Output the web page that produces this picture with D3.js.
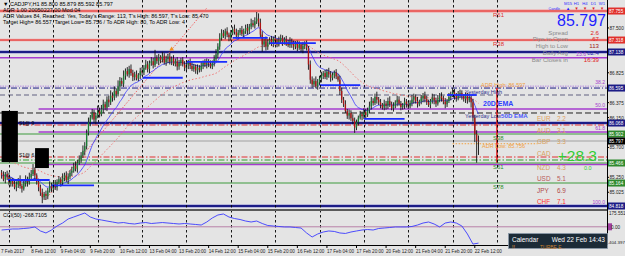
<!DOCTYPE html>
<html><head><meta charset="utf-8">
<script src="https://cdn.jsdelivr.net/npm/d3@7"></script>
<style>body{margin:0;background:#e4e4e4;overflow:hidden}svg{display:block}</style>
</head><body><svg id="c" width="625" height="256"></svg>
<script>
// ---------------- DATA ----------------
const firstOpen = 85.32;
const closes = [
85.28,85.22,85.30,85.25,85.18,85.21,
85.15,85.10,85.14,85.20,85.12,85.08,85.16,85.22,85.18,85.25,
85.30,85.36,85.28,
85.18,85.10,85.02,84.95,85.00,84.97,85.05,85.12,
85.08,85.15,85.10,85.18,
85.22,85.17,85.24,85.28,85.21,85.26,85.32,
85.35,85.42,85.38,85.47,85.52,
85.58,85.65,85.72,
85.92,86.08,
86.15,86.22,86.12,86.18,86.25,86.20,86.28,
86.35,86.30,86.42,86.38,86.48,86.45,86.55,86.50,
86.62,86.70,86.66,86.78,86.85,86.80,86.88,86.82,
86.76,86.80,86.74,86.79,86.85,86.83,
86.90,86.95,86.88,86.97,87.00,86.94,
87.05,87.00,87.06,87.02,87.08,86.98,87.03,87.07,86.99,87.04,
86.96,87.00,86.92,86.97,87.02,86.95,86.90,86.94,86.99,86.93,86.88,86.92,86.86,86.90,86.87,
86.93,86.98,86.95,87.00,86.96,86.92,86.97,87.03,87.10,
87.22,87.35,87.42,
87.38,87.45,87.40,87.36,87.42,87.48,87.44,87.39,87.43,87.47,87.41,87.45,87.50,87.46,
87.52,87.57,87.54,87.60,87.64,87.58,
87.40,87.25,87.30,87.22,87.28,
87.32,87.27,87.34,87.30,87.25,87.31,87.35,87.29,87.33,87.28,87.24,87.30,87.26,87.22,
87.27,87.20,87.25,87.18,87.23,87.26,87.20,
86.95,86.72,86.65,
86.70,86.62,86.68,86.74,
86.78,86.82,86.76,86.84,86.80,86.75,86.79,86.83,86.77,86.72,
86.55,86.42,86.35,
86.25,86.18,86.22,86.14,86.10,
86.00,86.08,
86.15,86.20,86.17,86.23,86.19,86.26,
86.32,86.40,86.37,86.46,86.42,86.38,86.34,
86.30,86.36,86.33,86.40,86.35,86.29,86.33,86.38,86.42,86.36,86.31,86.34,86.39,86.35,86.32,
86.37,86.42,86.46,86.40,86.35,86.39,86.44,86.48,86.43,86.38,86.34,86.40,86.45,86.41,
86.36,86.42,86.47,86.44,86.39,86.35,86.40,86.46,86.50,86.53,86.48,86.44,86.49,86.52,86.47,
86.43,86.48,86.41,86.45,86.38,
86.15,85.90,
85.80,
85.797];
// upper / lower wick lengths in pips (0.01)
const wickUp = [
4,6,3,5,7,4,3,6,5,4,8,3,5,6,4,7,6,9,4,3,
5,4,6,3,5,4,7,5,3,6,4,5,3,7,4,6,5,4,6,5,
7,4,6,5,8,6,5,7,4,6,5,4,8,5,6,7,4,5,6,8,
5,7,4,9,6,5,8,4,6,5,7,5,4,6,3,5,6,4,7,5,
4,6,5,12,4,5,3,6,4,5,4,6,3,5,4,6,5,3,4,5,
4,3,5,6,4,3,5,4,6,3,5,4,3,5,4,6,8,5,7,6,
5,4,6,3,5,4,7,5,4,3,6,4,5,6,4,7,5,6,10,8,
6,5,4,7,5,4,6,3,5,4,6,5,4,3,5,4,6,4,5,3,
4,5,3,6,4,5,3,6,5,4,7,5,4,6,3,5,4,6,5,4,
3,5,4,6,5,4,6,3,5,4,6,5,4,3,5,4,6,5,4,7,
6,4,5,8,4,5,3,6,4,5,7,4,5,3,6,5,4,3,6,4,
5,4,7,5,4,6,3,5,4,6,5,4,3,6,5,4,7,5,6,4,
5,3,6,4,7,5,4,6,5,4,3,5,4,6,3,5,4,6,8];
const wickDn = [
5,3,6,4,5,7,4,3,6,5,4,6,3,5,7,4,5,3,6,4,
6,5,9,4,6,5,3,5,6,4,5,3,6,4,5,3,6,4,5,3,
4,6,3,5,4,7,5,4,6,3,5,7,4,5,3,6,4,5,7,4,
6,4,5,3,7,4,5,6,3,5,4,6,5,3,4,6,5,4,3,5,
6,4,5,3,4,6,5,4,3,5,6,4,5,3,4,6,5,4,3,5,
4,6,5,3,4,5,6,4,3,5,4,6,5,3,4,5,4,6,5,4,
3,5,4,6,5,3,4,5,6,4,3,5,4,6,5,4,3,5,4,6,
5,11,4,6,5,3,4,6,5,4,3,5,6,4,5,3,4,6,5,4,
5,3,4,6,5,4,8,6,5,4,3,5,4,6,5,3,4,5,6,4,
5,4,3,6,5,4,3,5,6,4,5,8,4,5,3,6,4,5,3,4,
5,4,3,6,4,5,3,4,6,5,4,3,5,4,6,3,5,4,6,5,
4,3,5,6,4,5,3,4,6,5,4,3,5,4,6,5,3,4,5,4,
6,4,3,5,4,6,5,3,4,5,4,6,5,3,8,6,12,33,21];
const emaSlowSeed = 85.56;

// CCI(50), one reading every 3 bars
const cciStep = 3;
const cciValues = [-53,-45,-36,-36,-28,-20,-3,-69,-102,-53,13,62,128,161,194,227,161,128,112,95,
79,62,70,54,46,62,70,54,62,70,62,54,46,54,46,38,29,79,145,194,
211,161,136,120,95,79,95,54,21,13,5,-3,-3,-12,-20,-102,-168,-119,-86,-69,
-77,-102,-110,-86,-69,-53,-45,-53,-28,-20,-12,-3,-3,-3,5,29,62,79,46,-3,
62,79,62,13,-119,-285,-268.7105];

// time axis (bar index of each label)
const timeLabels = ["7 Feb 2017","8 Feb 12:00","9 Feb 04:00","9 Feb 20:00","10 Feb 12:00","13 Feb 04:00","13 Feb 20:00","14 Feb 12:00","15 Feb 04:00","15 Feb 20:00","16 Feb 12:00","17 Feb 04:00","17 Feb 20:00","20 Feb 12:00","21 Feb 04:00","21 Feb 20:00","22 Feb 12:00"];
const timeLabelIdx = [0,16,32,48,64,80,96,112,128,144,160,176,192,208,224,240,256];
const daySepIdx = [4,28,52,76,100,124,148,172,196,220,244,268];

// price axis
const priceTicks = [87.500,86.825,86.375,86.150,85.700,85.250,85.025];
const cciAxisLabels = ["175.551","0.00","-404.397"];

// levels
const pivotNames = ["R61","R38","S38","S61","S78"];
const pivotPrices = [87.755,87.318,85.902,85.466,85.164];
const navyLevels = [87.138,86.068,84.818];
const redDashDot = [86.038,85.556];
const greenDashDot = [85.511];
const pivotDash = 86.490;
const yesterdayHigh = 86.595, yesterdayLow = 86.219;
const bid = 85.797;
const fibHigh = 87.74, fibLow = 84.817, fibStartIdx = 20;
const fibLevels = [0.236,0.382,0.5,0.618,0.786,1.0];
const fibLabels = ["23.6","38.2","50.0","61.8","","100.0"];
const todayHigh = 86.597, todayLow = 85.470, adrIdx = 268;
const adrLowTarget = 85.756, adrLineIdx = [244,290];
const trendIdx = [23.5,111], trendPrice = [84.91,87.80];
const blueSegs = [[3.5,26,85.21],[27,50,85.13],[76.5,98,86.75],[100,122,86.99],[125,144,87.35],[145,170,87.27],[172,194,86.64],[196,218,86.13],[241,257,86.49]];
const blackBoxes = [[0,8.8,86.25,85.48],[18.1,25.6,85.69,85.39]];

// info panel
const infoNames = ["Spread","Pips to Open","High to Low","Daily Avg","Bar Closes in"];
const infoValues = ["2.6",".67","113","82.4","16:39"];
const tfNames = ["M15","H1","H4","D1","W1"];
const tfUp = [true,false,false,false,false];
const ccyNames = ["EUR","AUD","GBP","CAD","NZD","USD","JPY","CHF"];
const ccyValues = ["2.2","3.1","3.3","","4.3","5.1","6.9","7.1"];
const cadDiff = "+28.3";

// ---------------- DRAW ----------------
const W=625,H=256,plotR=607,mainB=208,cciT=211,cciB=245;
const F="'Liberation Sans',Arial,sans-serif";
const svg=d3.select("#c");
svg.append("rect").attr("width",W).attr("height",H).attr("fill","#e4e4e4");

const x=d3.scaleLinear().domain([0,258]).range([1.6,478.5]);
const y=d3.scaleLinear().domain([84.788,87.921]).range([mainB,0]);
const yc=d3.scaleLinear().domain([-300,260]).range([cciB,cciT]);

svg.append("clipPath").attr("id","mc").append("rect").attr("x",0).attr("y",0).attr("width",plotR).attr("height",mainB);
const m=svg.append("g").attr("clip-path","url(#mc)");

function T(p,xx,yy,s,size,fill,anchor,weight){return p.append("text").attr("x",xx).attr("y",yy).text(s)
 .attr("font-family",F).attr("font-size",size).attr("fill",fill).attr("text-anchor",anchor||"start").attr("font-weight",weight||"normal");}
function hline(p,price,color,w,dash,x0){const l=p.append("line").attr("x1",x0||0).attr("x2",plotR).attr("y1",y(price)).attr("y2",y(price))
 .attr("stroke",color).attr("stroke-width",w);if(dash)l.attr("stroke-dasharray",dash);return l;}

// day separators
daySepIdx.forEach(i=>{svg.append("line").attr("x1",Math.round(x(i))+0.5).attr("x2",Math.round(x(i))+0.5).attr("y1",0).attr("y2",cciB)
 .attr("stroke","#000").attr("stroke-width",0.9).attr("stroke-dasharray","2.5,2.5");});

// horizontal levels
const fibP=fibLevels.map(l=>fibHigh-l*(fibHigh-fibLow));
fibP.forEach((p,k)=>{hline(m,p,k===1?"#b48be0":"#a63ccf",k===1?1:1.6,k===1?"1.5,1":null,k<2||k===5?0:x(fibStartIdx));});
hline(m,pivotPrices[0],"#f49a9a",3);hline(m,pivotPrices[0],"#e0302c",1.2);
hline(m,pivotPrices[1],"#f4a0a0",2.4);hline(m,pivotPrices[1],"#e0302c",1);
navyLevels.forEach(p=>{hline(m,p,"#8a8ad0",3);hline(m,p,"#1c1c86",1.8);});
hline(m,yesterdayHigh,"#1c1c86",1,"6,2,1,2");
hline(m,pivotDash,"#606080",1,"5,3");
hline(m,yesterdayLow,"#202020",1,"6,3");
redDashDot.forEach(p=>hline(m,p,"#e03030",1,"6,2,1.5,2"));
greenDashDot.forEach(p=>hline(m,p,"#2f9f2f",1,"6,2,1.5,2"));
[2,3,4].forEach(k=>hline(m,pivotPrices[k],"#3c9a3c",1.1));
hline(m,bid,"#a0a0a0",1);
m.append("line").attr("x1",x(adrLineIdx[0])).attr("x2",x(adrLineIdx[1])).attr("y1",y(adrLowTarget)).attr("y2",y(adrLowTarget))
 .attr("stroke","#f0a040").attr("stroke-width",1).attr("stroke-dasharray","1.5,1.5");
m.append("line").attr("x1",x(adrIdx)).attr("x2",x(adrIdx)).attr("y1",y(todayHigh)).attr("y2",y(todayLow)).attr("stroke","#e02020").attr("stroke-width",1.6);

// trend line
m.append("line").attr("x1",x(trendIdx[0])).attr("y1",y(trendPrice[0])).attr("x2",x(trendIdx[1])).attr("y2",y(trendPrice[1]))
 .attr("stroke","#f06a6a").attr("stroke-width",1).attr("stroke-dasharray","1.5,1.5");

// moving averages (derived from closes)
function ema(vals,n,seed){const a=2/(n+1);let e=seed;return vals.map(v=>(e=a*v+(1-a)*e));}
const emaSlow=ema(closes,50,emaSlowSeed), emaFast=ema(closes,14,closes[0]);
const ln=d3.line().x((d,i)=>x(i)).y(d=>y(d)).curve(d3.curveMonotoneX);
m.append("path").attr("d",ln(emaSlow)).attr("fill","none").attr("stroke","#f07878").attr("stroke-width",1).attr("stroke-dasharray","1.5,2");
m.append("path").attr("d",ln(emaFast)).attr("fill","none").attr("stroke","#3535ff").attr("stroke-width",0.8);

// candles
const opens=closes.map((c,i)=>i===0?firstOpen:closes[i-1]);
const cg=m.append("g");
closes.forEach((c,i)=>{const o=opens[i],hi=Math.max(o,c)+wickUp[i]/100,lo=Math.min(o,c)-wickDn[i]/100;
 cg.append("line").attr("x1",x(i)).attr("x2",x(i)).attr("y1",y(hi)).attr("y2",y(lo)).attr("stroke","#111").attr("stroke-width",0.9);
 const t=Math.min(y(o),y(c)),h=Math.max(0.8,Math.abs(y(o)-y(c)));
 cg.append("rect").attr("x",x(i)-0.65).attr("width",1.3).attr("y",t).attr("height",h).attr("fill",c>=o?"#1a7f34":"#b01414");});

// blue segments
blueSegs.forEach(s=>m.append("line").attr("x1",x(s[0])).attr("x2",x(s[1])).attr("y1",y(s[2])).attr("y2",y(s[2])).attr("stroke","#1a2cff").attr("stroke-width",1.8));
// black boxes
blackBoxes.forEach(b=>m.append("rect").attr("x",x(b[0])).attr("width",x(b[1])-x(b[0])).attr("y",y(b[2])).attr("height",y(b[3])-y(b[2])).attr("fill","#000"));
T(m,19,125,"S1@ 9",5,"#000");T(m,19,157,"S1@ 6",5,"#000");
m.append("path").attr("d",d3.symbol(d3.symbolTriangle,10)()).attr("transform",`translate(${x(92)},${y(87.18)})`).attr("fill","#f09020");

// pivot labels
pivotNames.forEach((n,k)=>T(m,493,y(pivotPrices[k])+6,n,6,k<2?"#e03030":"#2f8f2f"));
fibLabels.forEach((s,k)=>{if(s)T(m,k===0?586:605,y(fibP[k])-2,s,5,"#a63ccf","end");});
T(m,465,y(yesterdayHigh)+6,"Yesterday High",5.5,"#303090");
T(m,481,y(yesterdayHigh)-1,"ADR High: "+todayHigh.toFixed(3),5.5,"#f0a040");
T(m,483,106,"20D EMA",7,"#2f3fff","start","bold");
T(m,465,118,"Yesterday Low",5.5,"#303090");
T(m,501,118,"50D EMA",6.2,"#2f3fff","start","bold").attr("opacity",0.85);
T(m,482,y(adrLowTarget)+4,"ADR Low: "+adrLowTarget.toFixed(3),5.5,"#f0a040");

// title texts
T(svg,3,6,"\u25BC CADJPY,H1  85.800 85.879 85.592 85.797",5.5,"#000");
T(svg,3,12,"ADR 1.00 20050227.00 Mod 04",5.5,"#000");
T(svg,3,18,"ADR Values 84, Reached: Yes, Today's Range: 113, T's High: 86.597, T's Low: 85.470",5.4,"#000");
T(svg,3,24,"Target High= 86.557, Target Low= 85.756 / To ADR High: 80, To ADR Low: 4",5.4,"#000");

// info panel
tfNames.forEach((n,k)=>{T(svg,568+k*8.5,5,n,4.2,"#3030ff","middle");
 T(svg,568+k*8.5,10,tfUp[k]?"\u25B2":"\u25BC",4.2,tfUp[k]?"#2020ff":"#e02020","middle");});
T(svg,560,9.5,"Candle",3.6,"#3030ff","end");
T(svg,606,26,bid.toFixed(3),16,"#1f1fff","end");
const infoColors=["#e02020","#e02020","#a01818","#2a2ab0","#e02020"];
infoNames.forEach((n,k)=>{T(svg,568,34.5+k*6.8,n,6.1,"#8a8a8a","end");T(svg,599,34.5+k*6.8,infoValues[k],6.1,infoColors[k],"end");});
const ccyColors=["#e0a060","#e0a060","#d8a060","#d8a060","#d8a060","#b85a5a","#b04848","#ff3030"];
ccyNames.forEach((n,k)=>{const yy=k<4?121+k*11.6:170+(k-4)*11.3;T(svg,537,yy,n,6.4,ccyColors[k]);if(ccyValues[k])T(svg,557,yy,ccyValues[k],6.4,ccyColors[k]);});
T(svg,597,160.5,cadDiff,15.5,"#33cc33","end");
T(svg,584,170,"0.0",5.5,"#33cc33");

// separators & frame
svg.append("rect").attr("x",0).attr("y",209).attr("width",plotR).attr("height",2).attr("fill","#5a5a5a");
svg.append("line").attr("x1",0).attr("x2",plotR).attr("y1",cciB+0.5).attr("y2",cciB+0.5).attr("stroke","#000");
svg.append("line").attr("x1",plotR+0.5).attr("x2",plotR+0.5).attr("y1",0).attr("y2",cciB).attr("stroke","#000");

// CCI
svg.append("line").attr("x1",0).attr("x2",plotR).attr("y1",yc(0)).attr("y2",yc(0)).attr("stroke","#b880a8").attr("stroke-width",1);
svg.append("path").attr("d",d3.line().x((d,k)=>x(k*cciStep)).y(d=>yc(d))(cciValues)).attr("fill","none").attr("stroke","#3a3aff").attr("stroke-width",0.9);
T(svg,3,217,"CCI(50) "+cciValues[cciValues.length-1].toFixed(4),5.3,"#000");

// price axis
priceTicks.forEach(p=>{svg.append("line").attr("x1",plotR).attr("x2",plotR+2).attr("y1",y(p)).attr("y2",y(p)).attr("stroke","#000");
 T(svg,609.5,y(p)+2,p.toFixed(3),4.7,"#222");});
const boxes=[[pivotPrices[0],"#e0302c"],[pivotPrices[1],"#e0302c"],[navyLevels[0],"#1c1c86"],[yesterdayHigh,"#1c1c86"],[navyLevels[1],"#1c1c86"],
 [pivotPrices[2],"#2f8a2f"],[bid,"#000"],[pivotPrices[3],"#2f8a2f"],[pivotPrices[4],"#2f8a2f"],[navyLevels[2],"#1c1c86"]];
boxes.forEach(b=>{svg.append("rect").attr("x",plotR+1).attr("y",y(b[0])-3.5).attr("width",18).attr("height",7).attr("fill",b[1]);
 T(svg,609,y(b[0])+2,b[0].toFixed(3),4.7,"#fff");});
T(svg,609,215,cciAxisLabels[0],4.6,"#222");
svg.append("rect").attr("x",plotR+1).attr("y",yc(0)-3.5).attr("width",4).attr("height",7).attr("fill","#a040a0");
T(svg,611,yc(0)+2,cciAxisLabels[1],4.7,"#222");
T(svg,607.5,244,cciAxisLabels[2],4.4,"#222");

// time axis
timeLabels.forEach((s,k)=>{const xx=x(timeLabelIdx[k]);
 if(k>0)svg.append("line").attr("x1",xx).attr("x2",xx).attr("y1",cciB).attr("y2",cciB+3).attr("stroke","#000");
 T(svg,k===0?1:xx,253,s,4.6,"#222");});

// calendar panel
const cal=svg.append("g");
cal.append("rect").attr("x",508.5).attr("y",233.5).attr("width",99).attr("height",15).attr("fill","#1c2b37").attr("stroke","#8a9aa8").attr("stroke-width",0.8);
T(cal,512,242,"Calendar",6.5,"#fff");
T(cal,605,242,"Wed 22 Feb 14:43",6.5,"#fff","end");
T(cal,512,248.5,"!!",5,"#f0a040");T(cal,540,248.5,"TURBE E...",5,"#c88030");
</script></body></html>
